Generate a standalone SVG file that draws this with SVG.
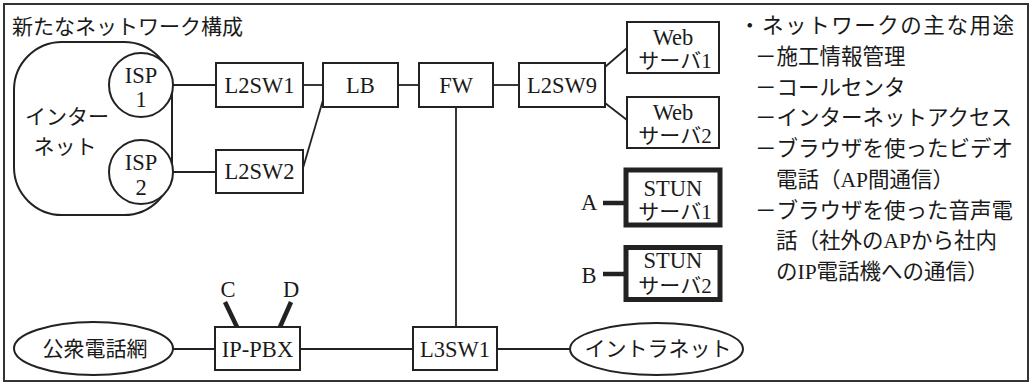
<svg xmlns="http://www.w3.org/2000/svg" width="1032" height="385" viewBox="0 0 1032 385">
<style>
.box{fill:#fff;stroke:#222;stroke-width:2}
.bold{fill:#fff;stroke:#222;stroke-width:5}
.ln{stroke:#222;stroke-width:1.8;fill:none}
.tk{stroke:#222;stroke-width:4.5;fill:none}
text{font-family:'Liberation Serif','Noto Sans CJK JP',serif;font-size:21px;fill:#1a1a1a}
.c{text-anchor:middle}
.lat{font-size:22.5px}
.note{font-size:21.5px}
</style>
<rect x="0" y="0" width="1032" height="385" fill="#fff"/>
<rect x="4" y="4" width="1024" height="377" fill="none" stroke="#333" stroke-width="2"/>
<text x="12" y="34">新たなネットワーク構成</text>
<g id="connectors">
<path class="ln" d="M173 85H216"/>
<path class="ln" d="M303 85H323"/>
<path class="ln" d="M323 100L303 168"/>
<path class="ln" d="M173 172H216"/>
<path class="ln" d="M398 85H419"/>
<path class="ln" d="M493 85H519"/>
<path class="ln" d="M605 67L627 48"/>
<path class="ln" d="M605 103L627 120"/>
<path class="ln" d="M456 107V327"/>
<path class="ln" d="M173 349H215"/>
<path class="ln" d="M300 349H413"/>
<path class="ln" d="M497 349H570"/>
<path class="tk" d="M225 302L237 327"/>
<path class="tk" d="M291 302L280 327"/>
<path class="tk" d="M603 203H625"/>
<path class="tk" d="M603 274H625"/>
</g>
<g id="internet">
<rect class="box" x="14" y="42" width="158" height="173" rx="48"/>
<text class="c" x="67" y="124">インター</text>
<text class="c" x="65" y="154">ネット</text>
</g>
<g id="isp1">
<circle class="box" cx="141" cy="85" r="32"/>
<text class="c lat" x="141" y="83">ISP</text>
<text class="c lat" x="141" y="107">1</text>
</g>
<g id="isp2">
<circle class="box" cx="141" cy="172" r="32"/>
<text class="c lat" x="141" y="170">ISP</text>
<text class="c lat" x="141" y="195">2</text>
</g>
<g id="l2sw1"><rect class="box" x="216" y="63" width="87" height="44"/><text class="c lat" x="259.5" y="93">L2SW1</text></g>
<g id="l2sw2"><rect class="box" x="216" y="150" width="87" height="43"/><text class="c lat" x="259.5" y="179">L2SW2</text></g>
<g id="lb"><rect class="box" x="323" y="63" width="75" height="44"/><text class="c lat" x="360.5" y="93">LB</text></g>
<g id="fw"><rect class="box" x="419" y="63" width="74" height="44"/><text class="c lat" x="456" y="93">FW</text></g>
<g id="l2sw9"><rect class="box" x="519" y="63" width="86" height="44"/><text class="c lat" x="562" y="93">L2SW9</text></g>
<g id="web1"><rect class="box" x="627" y="22" width="92" height="51"/><text class="c lat" x="673" y="45">Web</text><text class="c" x="675" y="68">サーバ1</text></g>
<g id="web2"><rect class="box" x="627" y="97" width="92" height="51"/><text class="c lat" x="673" y="120">Web</text><text class="c" x="675" y="143">サーバ2</text></g>
<g id="stun1"><rect class="bold" x="626" y="170" width="94" height="55"/><text class="c lat" x="673" y="196">STUN</text><text class="c" x="675" y="219">サーバ1</text></g>
<g id="stun2"><rect class="bold" x="626" y="247.5" width="94" height="52"/><text class="c lat" x="673" y="268">STUN</text><text class="c" x="675" y="293">サーバ2</text></g>
<g id="labelA"><text class="c lat" x="589" y="210">A</text></g>
<g id="labelB"><text class="c lat" x="589" y="283">B</text></g>
<g id="labelC"><text class="c lat" x="228" y="297">C</text></g>
<g id="labelD"><text class="c lat" x="291" y="297">D</text></g>
<g id="ippbx"><rect class="box" x="215" y="327" width="85" height="43"/><text class="c lat" x="257.5" y="357">IP-PBX</text></g>
<g id="l3sw1"><rect class="box" x="413" y="327" width="84" height="43"/><text class="c lat" x="455" y="357">L3SW1</text></g>
<g id="pstn"><ellipse class="box" cx="93.5" cy="348.5" rx="79.5" ry="26.5"/><text class="c" x="95" y="356">公衆電話網</text></g>
<g id="intranet"><ellipse class="box" cx="656.5" cy="349" rx="86.5" ry="26"/><text class="c" x="658" y="356">イントラネット</text></g>
<g id="notes">
<text class="note" x="739" y="33" textLength="275" lengthAdjust="spacing">・ネットワークの主な用途</text>
<text class="note" x="755" y="64">－施工情報管理</text>
<text class="note" x="755" y="94.5">－コールセンタ</text>
<text class="note" x="755" y="125">－インターネットアクセス</text>
<text class="note" x="755" y="156">－ブラウザを使ったビデオ</text>
<text class="note" x="776" y="187">電話（AP間通信）</text>
<text class="note" x="755" y="217.5">－ブラウザを使った音声電</text>
<text class="note" x="776" y="248">話（社外のAPから社内</text>
<text class="note" x="776" y="279">のIP電話機への通信）</text>
</g>
</svg>
